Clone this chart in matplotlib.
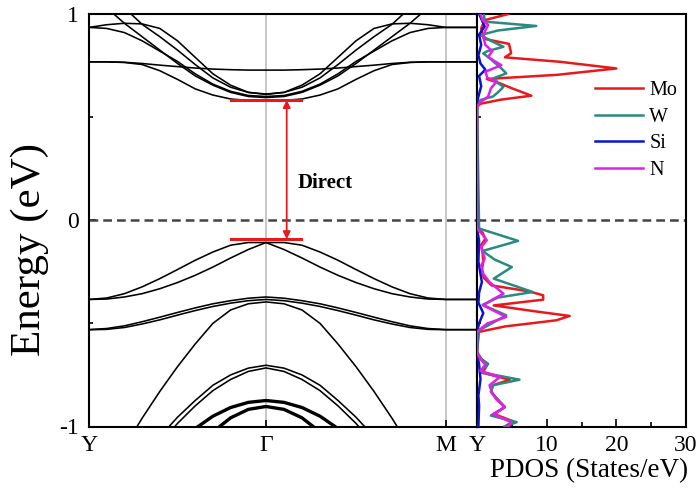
import numpy as np
import matplotlib
matplotlib.use("Agg")
import matplotlib.pyplot as plt

plt.rcParams['font.family'] = ['Liberation Serif', 'DejaVu Serif']

# ---------------- band structure data ----------------
# energies (eV) read on the Y -> Gamma segment at t = 0, 0.1, ..., 1.0
# (Gamma -> M mirrors it, M -> Y is flat at the Y value)
t_frac = [0.0, 0.1, 0.2, 0.3, 0.4, 0.5, 0.6, 0.7, 0.8, 0.9, 1.0]
k_labels = ['Y', 'Γ', 'M', 'Y']
k_nodes = [0.0, 177.0, 357.0, 388.0]

cb1 = [0.768, 0.768, 0.765, 0.755, 0.725, 0.683, 0.637, 0.607, 0.588, 0.581, 0.579]
cb2 = [0.768, 0.768, 0.766, 0.760, 0.752, 0.745, 0.738, 0.733, 0.730, 0.728, 0.728]
cb3 = [0.935, 0.948, 0.955, 0.952, 0.930, 0.870, 0.790, 0.710, 0.655, 0.620, 0.610]
cb4 = [0.935, 0.930, 0.910, 0.870, 0.820, 0.770, 0.710, 0.660, 0.625, 0.605, 0.600]
cb5 = [1.120, 1.030, 0.955, 0.890, 0.825, 0.760, 0.700, 0.655, 0.620, 0.600, 0.595]
cb6 = [1.250, 1.150, 1.030, 0.950, 0.890, 0.825, 0.755, 0.690, 0.645, 0.620, 0.612]

vb1 = [-0.384, -0.377, -0.356, -0.323, -0.283, -0.239, -0.194, -0.154, -0.121, -0.108, -0.108]
vb2 = [-0.384, -0.382, -0.372, -0.356, -0.332, -0.302, -0.267, -0.227, -0.183, -0.142, -0.108]
vb3 = [-0.530, -0.525, -0.512, -0.492, -0.470, -0.447, -0.425, -0.405, -0.390, -0.378, -0.372]
vb4 = [-0.531, -0.529, -0.520, -0.503, -0.483, -0.460, -0.438, -0.418, -0.402, -0.390, -0.384]
vb5 = [-1.400, -1.250, -1.100, -0.960, -0.830, -0.710, -0.600, -0.500, -0.435, -0.405, -0.396]
vb6 = [-1.380, -1.330, -1.250, -1.150, -1.050, -0.955, -0.874, -0.800, -0.750, -0.717, -0.703]
vb7 = [-1.420, -1.370, -1.290, -1.190, -1.085, -0.985, -0.900, -0.826, -0.772, -0.733, -0.716]
vb8 = [-1.600, -1.500, -1.400, -1.300, -1.180, -1.090, -1.010, -0.950, -0.908, -0.883, -0.874]
vb9 = [-1.800, -1.700, -1.600, -1.480, -1.370, -1.250, -1.120, -1.026, -0.958, -0.917, -0.903]

thin_bands = [cb1, cb2, cb3, cb4, cb5, cb6, vb1, vb2, vb3, vb4, vb5, vb6, vb7]
thick_bands = [vb8, vb9]

cbm = 0.583
vbm = -0.092

# ---------------- PDOS data (energy, states/eV) ----------------
mo_E = [1.00, 0.97, 0.93, 0.88, 0.855, 0.81, 0.79, 0.768, 0.736, 0.705, 0.685, 0.665, 0.64, 0.604, 0.585, 0.565, 0.55,
        -0.04, -0.06, -0.09, -0.12, -0.16, -0.20, -0.24, -0.28, -0.316, -0.345, -0.364, -0.385, -0.413, -0.44, -0.464,
        -0.485, -0.515, -0.542,
        -0.64, -0.67, -0.70, -0.74, -0.773, -0.80, -0.83, -0.87, -0.906, -0.94, -0.975, -1.00]
mo_V = [4.5, 1.1, 0.6, 1.0, 4.6, 4.9, 4.0, 12.0, 20.0, 11.5, 1.4, 3.2, 5.0, 7.8, 3.5, 0.5, 0.0,
        0.0, 0.8, 1.2, 0.6, 0.8, 0.9, 0.7, 1.0, 2.1, 7.5, 9.5, 9.5, 2.4, 8.0, 13.3,
        11.4, 4.0, 0.2,
        0.0, 0.6, 1.5, 0.8, 4.7, 2.3, 2.0, 3.0, 4.0, 2.5, 5.2, 4.0]

w_E = [1.00, 0.963, 0.942, 0.92, 0.898, 0.87, 0.841, 0.82, 0.809, 0.78, 0.736, 0.712, 0.69, 0.665, 0.647, 0.62, 0.60,
       0.583, 0.56,
       -0.04, -0.10, -0.149, -0.19, -0.227, -0.283, -0.348, -0.375, -0.41, -0.461, -0.534,
       -0.64, -0.67, -0.696, -0.736, -0.773, -0.80, -0.833, -0.87, -0.906, -0.947, -0.979, -1.00]
w_V = [1.0, 1.1, 8.5, 3.0, 0.5, 2.0, 3.8, 1.5, 0.9, 2.0, 3.5, 4.2, 2.5, 3.0, 3.8, 3.0, 2.3,
       0.5, 0.0,
       0.3, 5.9, 0.8, 2.5, 5.0, 2.4, 8.0, 3.0, 0.8, 4.2, 0.3,
       0.0, 0.5, 1.6, 0.4, 6.1, 2.3, 2.0, 3.0, 4.0, 2.0, 5.7, 4.0]

si_E = [1.00, 0.94, 0.90, 0.85, 0.80, 0.76, 0.73, 0.70, 0.65, 0.60, 0.57,
        -0.04, -0.10, -0.20, -0.30, -0.35, -0.40, -0.45, -0.50, -0.54,
        -0.64, -0.70, -0.77, -0.85, -0.90, -1.00]
si_V = [0.3, 1.1, 0.3, 0.6, 0.2, 0.5, 1.2, 0.3, 0.6, 0.2, 0.0,
        0.0, 0.3, 0.2, 0.7, 0.3, 0.2, 0.9, 0.3, 0.0,
        0.0, 0.3, 0.5, 0.2, 0.3, 0.2]

n_E = [1.00, 0.97, 0.947, 0.92, 0.89, 0.85, 0.82, 0.793, 0.772, 0.752, 0.72, 0.69, 0.672, 0.64, 0.60, 0.57, 0.55,
       -0.04, -0.07, -0.097, -0.13, -0.186, -0.22, -0.26, -0.30, -0.356, -0.385, -0.413, -0.44, -0.469, -0.50, -0.54,
       -0.64, -0.67, -0.70, -0.73, -0.76, -0.80, -0.84, -0.87, -0.906, -0.94, -0.979, -1.00]
n_V = [0.5, 0.8, 1.6, 1.2, 0.9, 1.2, 2.2, 1.6, 2.5, 3.5, 1.2, 1.5, 2.8, 2.0, 1.6, 0.4, 0.0,
       0.0, 0.8, 1.4, 0.6, 1.1, 0.6, 0.9, 1.8, 3.8, 2.2, 0.9, 2.5, 4.2, 1.5, 0.0,
       0.0, 0.4, 1.2, 0.5, 3.3, 1.8, 2.2, 2.8, 4.0, 2.3, 4.9, 4.5]

species = ['Mo', 'W', 'Si', 'N']
pdos_E = [mo_E, w_E, si_E, n_E]
pdos_V = [mo_V, w_V, si_V, n_V]
colors = ['#e8191c', '#2a8a80', '#0a14d0', '#e020e8']

# ---------------- figure ----------------
fig = plt.figure(figsize=(6.99, 4.95), dpi=100)
W, H = 699.0, 495.0
y_top, y_bot = 14.0, 426.5
axb = fig.add_axes([89 / W, 1 - y_bot / H, 388 / W, (y_bot - y_top) / H])
axp = fig.add_axes([477 / W, 1 - y_bot / H, 209 / W, (y_bot - y_top) / H])

t = np.array(t_frac)
seg1 = t * (k_nodes[1] - k_nodes[0]) + k_nodes[0]
seg2 = k_nodes[1] + (1 - t[::-1]) * (k_nodes[2] - k_nodes[1])
kfull = np.concatenate([seg1, seg2[1:], [k_nodes[3]]])


def full_band(b):
    b = np.array(b)
    return np.concatenate([b, b[::-1][1:], [b[0]]])


for kx in k_nodes[1:3]:
    axb.axvline(kx, color='#bdbdbd', lw=1.2, zorder=1)

for b in thin_bands:
    axb.plot(kfull, full_band(b), color='black', lw=1.15, zorder=3)
for b in thick_bands:
    axb.plot(kfull, full_band(b), color='black', lw=2.4, zorder=3)

axb.axhline(0, color='#444444', lw=1.8, dashes=(3.5, 2.0), zorder=2)
axp.axhline(0, color='#444444', lw=1.8, dashes=(3.5, 2.0), zorder=2)

kG = k_nodes[1]
axb.plot([kG - 35, kG + 35], [cbm, cbm], color='#e8191c', lw=2.2, zorder=4)
axb.plot([kG - 35, kG + 35], [vbm, vbm], color='#e8191c', lw=2.2, zorder=4)
axb.annotate('', xy=(kG + 20.7, vbm), xytext=(kG + 20.7, cbm),
             arrowprops=dict(arrowstyle='<|-|>', color='#e8191c', lw=1.3,
                             mutation_scale=11, shrinkA=0, shrinkB=0), zorder=5)
axb.text(kG + 32, 0.18, 'Direct', fontsize=15, fontweight='bold', ha='left', va='center')

axb.set_xlim(k_nodes[0], k_nodes[-1])
axb.set_ylim(-1, 1)
axb.set_xticks(k_nodes)
axb.set_xticklabels(k_labels)
axb.set_yticks([-1, 0, 1])
axb.set_yticklabels(['-1', '0', '1'])
axb.set_yticks([-0.5, 0.5], minor=True)
axb.tick_params(axis='both', which='major', direction='in', length=5, width=1.2,
                labelsize=17, pad=6)
axb.tick_params(axis='y', which='major', pad=7)
axb.tick_params(axis='y', which='minor', direction='in', length=3, width=1.2)
axb.set_ylabel('Energy (eV)', fontsize=31, va='center')
axb.yaxis.set_label_coords(-0.152, 0.428)
for s in axb.spines.values():
    s.set_linewidth(1.5)

for E, V, c, name in zip(pdos_E, pdos_V, colors, species):
    axp.plot(V, E, color=c, lw=1.8, label=name, zorder=3)

axp.set_xlim(0, 30)
axp.set_ylim(-1, 1)
axp.set_xticks([0, 10, 20, 30])
axp.set_xticklabels(['', '10', '20', '30'])
axp.set_xticks([5, 15, 25], minor=True)
axp.set_yticks([-1, 0, 1])
axp.set_yticks([-0.5, 0.5], minor=True)
axp.tick_params(axis='x', which='major', direction='in', length=6, width=1.2, labelsize=17, pad=6)
axp.tick_params(axis='x', which='minor', direction='in', length=3.5, width=1.2)
axp.tick_params(axis='y', which='both', direction='in', length=3, width=1.2, labelleft=False)
axp.set_xlabel('PDOS (States/eV)', fontsize=19.5, va='center')
axp.xaxis.set_label_coords(0.536, -0.108)
for s in axp.spines.values():
    s.set_linewidth(1.5)

leg = axp.legend(loc='upper left', bbox_to_anchor=(0.565, 0.838), frameon=False,
                 fontsize=14.5, handlelength=2.4, handletextpad=0.3, labelspacing=0.38,
                 borderpad=0, borderaxespad=0)

fig.savefig('out.png', dpi=100)
